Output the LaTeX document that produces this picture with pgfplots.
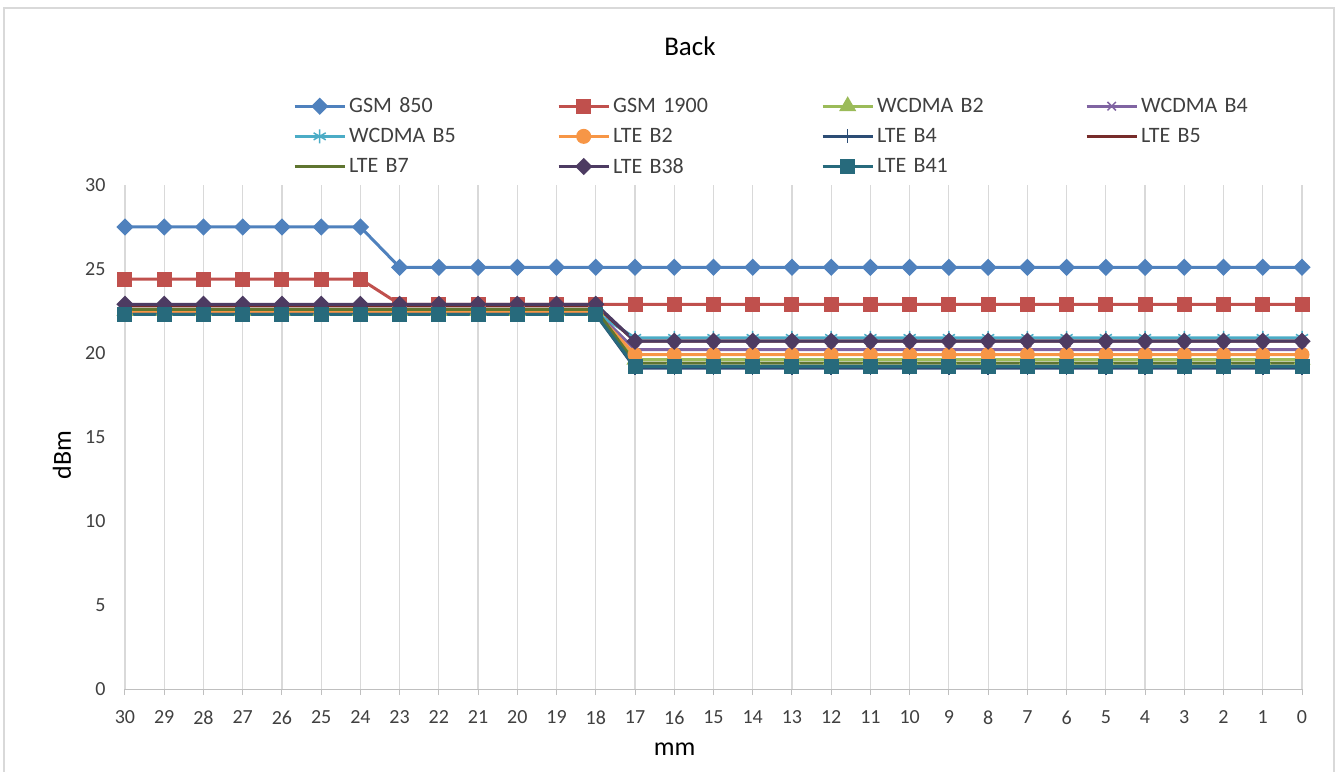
\documentclass[border=0pt]{standalone}
\usepackage{pgfplots}
\usepackage{pgfplotstable}
\pgfplotsset{compat=1.18}
\usepackage{fontspec}
\setmainfont{Carlito}
\definecolor{cA}{RGB}{79,129,189}
\definecolor{cB}{RGB}{192,80,77}
\definecolor{cC}{RGB}{155,187,89}
\definecolor{cD}{RGB}{128,100,162}
\definecolor{cE}{RGB}{75,172,198}
\definecolor{cF}{RGB}{247,150,70}
\definecolor{cG}{RGB}{44,77,117}
\definecolor{cH}{RGB}{119,44,42}
\definecolor{cI}{RGB}{95,117,48}
\definecolor{cJ}{RGB}{77,59,98}
\definecolor{cK}{RGB}{39,106,124}
\definecolor{gridc}{RGB}{217,217,217}
\definecolor{axc}{RGB}{191,191,191}
\definecolor{txt}{RGB}{64,64,64}

\pgfplotstableread{
x  gA   gB   wB2  wB4  wB5  lB2  lB4  lB5  lB7  lB38 lB41
30 27.5 24.4 22.5 22.5 22.4 22.4 22.3 22.8 22.6 22.9 22.3
29 27.5 24.4 22.5 22.5 22.4 22.4 22.3 22.8 22.6 22.9 22.3
28 27.5 24.4 22.5 22.5 22.4 22.4 22.3 22.8 22.6 22.9 22.3
27 27.5 24.4 22.5 22.5 22.4 22.4 22.3 22.8 22.6 22.9 22.3
26 27.5 24.4 22.5 22.5 22.4 22.4 22.3 22.8 22.6 22.9 22.3
25 27.5 24.4 22.5 22.5 22.4 22.4 22.3 22.8 22.6 22.9 22.3
24 27.5 24.4 22.5 22.5 22.4 22.4 22.3 22.8 22.6 22.9 22.3
23 25.1 22.9 22.5 22.5 22.4 22.4 22.3 22.8 22.6 22.9 22.3
22 25.1 22.9 22.5 22.5 22.4 22.4 22.3 22.8 22.6 22.9 22.3
21 25.1 22.9 22.5 22.5 22.4 22.4 22.3 22.8 22.6 22.9 22.3
20 25.1 22.9 22.5 22.5 22.4 22.4 22.3 22.8 22.6 22.9 22.3
19 25.1 22.9 22.5 22.5 22.4 22.4 22.3 22.8 22.6 22.9 22.3
18 25.1 22.9 22.5 22.5 22.4 22.4 22.3 22.8 22.6 22.9 22.3
17 25.1 22.9 19.6 20.2 20.9 19.9 19.1 20.7 19.4 20.7 19.2
16 25.1 22.9 19.6 20.2 20.9 19.9 19.1 20.7 19.4 20.7 19.2
15 25.1 22.9 19.6 20.2 20.9 19.9 19.1 20.7 19.4 20.7 19.2
14 25.1 22.9 19.6 20.2 20.9 19.9 19.1 20.7 19.4 20.7 19.2
13 25.1 22.9 19.6 20.2 20.9 19.9 19.1 20.7 19.4 20.7 19.2
12 25.1 22.9 19.6 20.2 20.9 19.9 19.1 20.7 19.4 20.7 19.2
11 25.1 22.9 19.6 20.2 20.9 19.9 19.1 20.7 19.4 20.7 19.2
10 25.1 22.9 19.6 20.2 20.9 19.9 19.1 20.7 19.4 20.7 19.2
9  25.1 22.9 19.6 20.2 20.9 19.9 19.1 20.7 19.4 20.7 19.2
8  25.1 22.9 19.6 20.2 20.9 19.9 19.1 20.7 19.4 20.7 19.2
7  25.1 22.9 19.6 20.2 20.9 19.9 19.1 20.7 19.4 20.7 19.2
6  25.1 22.9 19.6 20.2 20.9 19.9 19.1 20.7 19.4 20.7 19.2
5  25.1 22.9 19.6 20.2 20.9 19.9 19.1 20.7 19.4 20.7 19.2
4  25.1 22.9 19.6 20.2 20.9 19.9 19.1 20.7 19.4 20.7 19.2
3  25.1 22.9 19.6 20.2 20.9 19.9 19.1 20.7 19.4 20.7 19.2
2  25.1 22.9 19.6 20.2 20.9 19.9 19.1 20.7 19.4 20.7 19.2
1  25.1 22.9 19.6 20.2 20.9 19.9 19.1 20.7 19.4 20.7 19.2
0  25.1 22.9 19.6 20.2 20.9 19.9 19.1 20.7 19.4 20.7 19.2
}\data

\begin{document}
\begin{tikzpicture}[x=1bp,y=1bp]
\useasboundingbox (-125,-82) rectangle (1214,689);
\draw[gridc, line width=1.5bp] (-121,-90) rectangle (1209,681);
\begin{axis}[
  scale only axis, width=1177bp, height=504bp,
  xmin=0, xmax=30, ymin=0, ymax=30, x dir=reverse,
  xtick={0,1,...,30}, ytick={0,5,...,30},
  /pgf/number format/assume math mode=true,
  separate axis lines,
  axis x line*=bottom, axis y line*=left,
  x axis line style={draw=axc, line width=1bp},
  y axis line style={draw=none},
  xmajorgrids, grid style={draw=gridc, line width=1.2bp},
  xtick align=outside, major tick length=6bp,
  x tick style={draw=axc, line width=1bp},
  y tick style={draw=none},
  ticklabel style={font=\fontsize{20bp}{24bp}\selectfont, text=txt},
  yticklabel style={xshift=-16bp},
  xticklabel style={yshift=-12bp},
  title={Back},
  title style={font=\fontsize{27bp}{32bp}\selectfont, at={(axis description cs:0.48,1.264)}, anchor=center},
  xlabel={mm}, ylabel={dBm},
  xlabel style={font=\fontsize{26bp}{30bp}\selectfont, at={(axis description cs:0.467,-0.12)}, anchor=center},
  ylabel style={font=\fontsize{26bp}{30bp}\selectfont, at={(axis description cs:-0.0535,0.464)}, anchor=center, rotate=0},
  every axis plot/.append style={line width=3bp},
  legend columns=4,
  legend style={at={(axis description cs:0.1402,1.183)}, anchor=north west, draw=none, fill=none,
    font=\fontsize{22bp}{26bp}\selectfont, text=txt,
    nodes={inner xsep=3bp, inner ysep=3bp, text width=205bp, align=left},
    row sep=8bp},
  legend image code/.code={\draw[mark repeat=2,mark phase=2] plot coordinates {(0bp,0bp) (25bp,0bp) (50bp,0bp)};},
]
\addplot[cA, mark=square*, mark size=4.6bp, mark options={rotate=45}] table[x=x,y=gA]{\data};
\addlegendentry{GSM 850}
\addplot[cB, mark=square*, mark size=6bp] table[x=x,y=gB]{\data};
\addlegendentry{GSM 1900}
\addplot[cC, mark=triangle*, mark size=7bp] table[x=x,y=wB2]{\data};
\addlegendentry{WCDMA B2}
\addplot[cD, mark=x, mark size=6bp, mark options={line width=1.5bp}] table[x=x,y=wB4]{\data};
\addlegendentry{WCDMA B4}
\addplot[cE, mark=asterisk, mark size=7bp, mark options={line width=1.5bp}] table[x=x,y=wB5]{\data};
\addlegendentry{WCDMA B5}
\addplot[cF, mark=*, mark size=6bp] table[x=x,y=lB2]{\data};
\addlegendentry{LTE B2}
\addplot[cG, mark=+, mark size=7bp, mark options={line width=1.5bp}] table[x=x,y=lB4]{\data};
\addlegendentry{LTE B4}
\addplot[cH, mark=none] table[x=x,y=lB5]{\data};
\addlegendentry{LTE B5}
\addplot[cI, mark=none] table[x=x,y=lB7]{\data};
\addlegendentry{LTE B7}
\addplot[cJ, mark=square*, mark size=4.6bp, mark options={rotate=45}] table[x=x,y=lB38]{\data};
\addlegendentry{LTE B38}
\addplot[cK, mark=square*, mark size=6bp] table[x=x,y=lB41]{\data};
\addlegendentry{LTE B41}
\end{axis}
\end{tikzpicture}
\end{document}
